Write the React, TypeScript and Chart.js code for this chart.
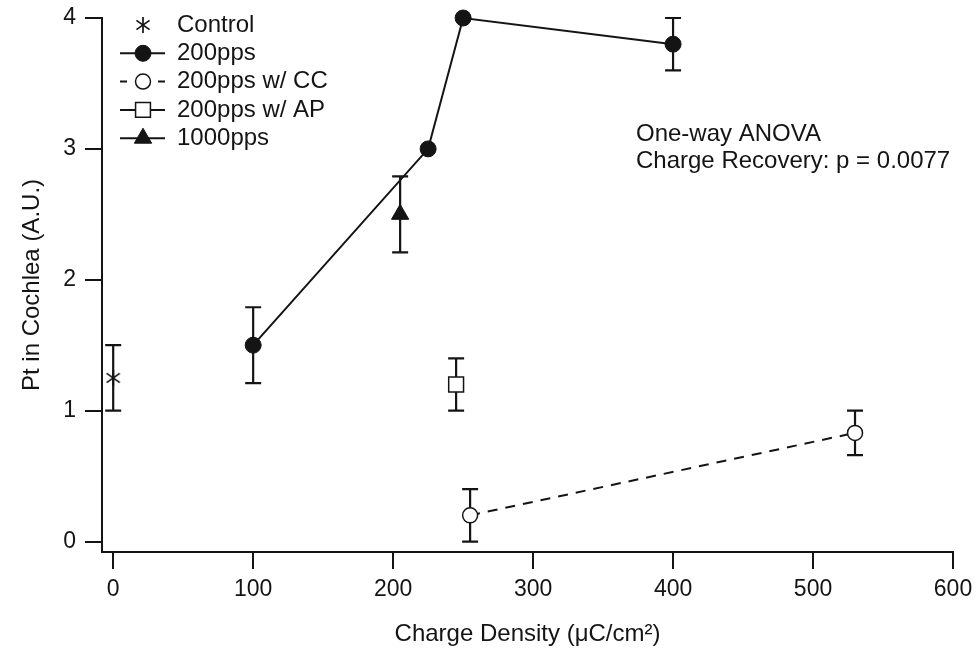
import React, { useEffect, useRef } from 'react';
import { Chart, registerables } from 'chart.js';
import { drawPoint } from 'chart.js/helpers';

Chart.register(...registerables);

const FONT = '"Liberation Sans", Arial, Helvetica, sans-serif';
const INK = '#141414';

// axes
const xTicks = [0, 100, 200, 300, 400, 500, 600];
const yTicks = [0, 1, 2, 3, 4];
const xMin = -8;
const xMax = 600;
const yMin = -0.08;
const yMax = 4;
const xTitle = 'Charge Density (μC/cm²)';
const yTitle = 'Pt in Cochlea (A.U.)';

// series
const controlX = [0];
const controlY = [1.25];
const controlErr = [0.25];

const pps200X = [100, 225, 250, 400];
const pps200Y = [1.5, 3.0, 4.0, 3.8];
const pps200Err = [0.29, 0, 0, 0.2];

const ccX = [255, 530];
const ccY = [0.2, 0.83];
const ccErr = [0.2, 0.17];

const apX = [245];
const apY = [1.2];
const apErr = [0.2];

const pps1000X = [205];
const pps1000Y = [2.5];
const pps1000Err = [0.29];

const seriesLabels = ['Control', '200pps', '200pps w/ CC', '200pps w/ AP', '1000pps'];
const annotationLines = ['One-way ANOVA', 'Charge Recovery: p = 0.0077'];

const toPoints = (xs: number[], ys: number[]) => xs.map((x, i) => ({ x, y: ys[i] }));

function makeAsterisk(): HTMLCanvasElement {
  const c = document.createElement('canvas');
  c.width = 20;
  c.height = 20;
  const g = c.getContext('2d')!;
  g.strokeStyle = INK;
  g.lineWidth = 1.7;
  const r = 8;
  [90, 35, 145].forEach((deg) => {
    const a = (deg * Math.PI) / 180;
    g.beginPath();
    g.moveTo(10 - Math.cos(a) * r, 10 - Math.sin(a) * r);
    g.lineTo(10 + Math.cos(a) * r, 10 + Math.sin(a) * r);
    g.stroke();
  });
  return c;
}

const errorBarPlugin = {
  id: 'errorBars',
  beforeDatasetsDraw(chart: any) {
    const { ctx } = chart;
    const xs = chart.scales.x;
    const ys = chart.scales.y;
    ctx.save();
    ctx.strokeStyle = INK;
    ctx.lineWidth = 2.2;
    ctx.setLineDash([]);
    chart.data.datasets.forEach((ds: any) => {
      const errs: number[] = ds.errors;
      if (!errs) return;
      ds.data.forEach((p: any, j: number) => {
        const e = errs[j];
        if (!e) return;
        const px = xs.getPixelForValue(p.x);
        const top = ys.getPixelForValue(p.y + e);
        const bot = ys.getPixelForValue(p.y - e);
        ctx.beginPath();
        ctx.moveTo(px, top);
        ctx.lineTo(px, bot);
        ctx.moveTo(px - 8, top);
        ctx.lineTo(px + 8, top);
        ctx.moveTo(px - 8, bot);
        ctx.lineTo(px + 8, bot);
        ctx.stroke();
      });
    });
    ctx.restore();
  },
};

const legendPlugin = {
  id: 'sampleLegend',
  afterDraw(chart: any) {
    const { ctx } = chart;
    ctx.save();
    chart.data.datasets.forEach((ds: any, i: number) => {
      const yy = 25 + i * 28.3;
      ctx.strokeStyle = INK;
      ctx.lineWidth = 2;
      ctx.setLineDash([]);
      if (ds.legendLine === 'solid') {
        ctx.beginPath();
        ctx.moveTo(120, yy);
        ctx.lineTo(165, yy);
        ctx.stroke();
      } else if (ds.legendLine === 'dashed') {
        ctx.beginPath();
        ctx.moveTo(120, yy);
        ctx.lineTo(127, yy);
        ctx.moveTo(158, yy);
        ctx.lineTo(165, yy);
        ctx.stroke();
      }
      ctx.fillStyle = ds.pointBackgroundColor;
      ctx.strokeStyle = ds.pointBorderColor;
      ctx.lineWidth = ds.pointBorderWidth;
      drawPoint(ctx, { pointStyle: ds.pointStyle, radius: ds.pointRadius, borderWidth: ds.pointBorderWidth, rotation: 0 } as any, 143, yy);
      ctx.fillStyle = INK;
      ctx.font = `24px ${FONT}`;
      ctx.textAlign = 'left';
      ctx.textBaseline = 'middle';
      ctx.fillText(ds.label, 177, yy);
    });
    ctx.fillStyle = INK;
    ctx.font = `24px ${FONT}`;
    ctx.textAlign = 'left';
    ctx.textBaseline = 'middle';
    annotationLines.forEach((t, i) => ctx.fillText(t, 636, 134 + i * 27));
    ctx.restore();
  },
};

export default function App() {
  const ref = useRef<HTMLCanvasElement>(null);

  useEffect(() => {
    if (!ref.current) return;
    const asterisk = makeAsterisk();
    const base = { clip: false as any, borderColor: INK, pointBorderColor: INK };
    const chart = new Chart(ref.current, {
      type: 'scatter',
      data: {
        datasets: [
          {
            ...base,
            label: seriesLabels[0],
            data: toPoints(controlX, controlY),
            errors: controlErr,
            legendLine: 'none',
            showLine: false,
            pointStyle: asterisk,
            pointRadius: 8,
            pointBackgroundColor: INK,
            pointBorderWidth: 1,
          } as any,
          {
            ...base,
            label: seriesLabels[1],
            data: toPoints(pps200X, pps200Y),
            errors: pps200Err,
            legendLine: 'solid',
            showLine: true,
            borderWidth: 2,
            pointStyle: 'circle',
            pointRadius: 8,
            pointBackgroundColor: INK,
            pointBorderWidth: 1,
          } as any,
          {
            ...base,
            label: seriesLabels[2],
            data: toPoints(ccX, ccY),
            errors: ccErr,
            legendLine: 'dashed',
            showLine: true,
            borderWidth: 2,
            borderDash: [10, 8],
            pointStyle: 'circle',
            pointRadius: 7.5,
            pointBackgroundColor: '#ffffff',
            pointBorderWidth: 1.5,
          } as any,
          {
            ...base,
            label: seriesLabels[3],
            data: toPoints(apX, apY),
            errors: apErr,
            legendLine: 'solid',
            showLine: false,
            pointStyle: 'rect',
            pointRadius: 10.5,
            pointBackgroundColor: '#ffffff',
            pointBorderWidth: 1.5,
          } as any,
          {
            ...base,
            label: seriesLabels[4],
            data: toPoints(pps1000X, pps1000Y),
            errors: pps1000Err,
            legendLine: 'solid',
            showLine: false,
            pointStyle: 'triangle',
            pointRadius: 10,
            pointBackgroundColor: INK,
            pointBorderWidth: 1,
          } as any,
        ],
      },
      options: {
        animation: false,
        responsive: false,
        devicePixelRatio: 1,
        events: [],
        layout: { padding: { top: 18, right: 27, bottom: 0, left: 0 } },
        plugins: { legend: { display: false }, tooltip: { enabled: false } },
        scales: {
          x: {
            type: 'linear',
            min: xMin,
            max: xMax,
            afterBuildTicks: (s: any) => {
              s.ticks = xTicks.map((v) => ({ value: v }));
            },
            afterFit: (s: any) => {
              s.height = 104;
              s.paddingLeft = 0;
              s.paddingRight = 0;
            },
            grid: { display: true, drawOnChartArea: false, drawTicks: true, tickLength: 17, color: INK, lineWidth: 2 },
            border: { display: true, color: INK, width: 2 },
            ticks: {
              color: INK,
              font: { family: FONT, size: 23 },
              padding: 7,
              maxRotation: 0,
              autoSkip: false,
              callback: (v: any) => String(v),
            },
            title: {
              display: true,
              text: xTitle,
              color: INK,
              font: { family: FONT, size: 24 },
              padding: { top: 0, bottom: 7 },
            },
          },
          y: {
            type: 'linear',
            min: yMin,
            max: yMax,
            afterBuildTicks: (s: any) => {
              s.ticks = yTicks.map((v) => ({ value: v }));
            },
            afterFit: (s: any) => {
              s.width = 102;
              s.paddingTop = 0;
              s.paddingBottom = 0;
            },
            grid: { display: true, drawOnChartArea: false, drawTicks: true, tickLength: 17, color: INK, lineWidth: 2 },
            border: { display: true, color: INK, width: 2 },
            ticks: {
              color: INK,
              font: { family: FONT, size: 23 },
              padding: 9,
              callback: (v: any) => String(v),
            },
            title: {
              display: true,
              text: yTitle,
              color: INK,
              font: { family: FONT, size: 24 },
              padding: { top: 18, bottom: 0 },
            },
          },
        },
      } as any,
      plugins: [errorBarPlugin, legendPlugin],
    });
    return () => chart.destroy();
  }, []);

  return (
    <div style={{ position: 'absolute', left: 0, top: 0, width: 980, height: 656, background: '#ffffff' }}>
      <canvas ref={ref} width={980} height={656} style={{ display: 'block' }} />
    </div>
  );
}
